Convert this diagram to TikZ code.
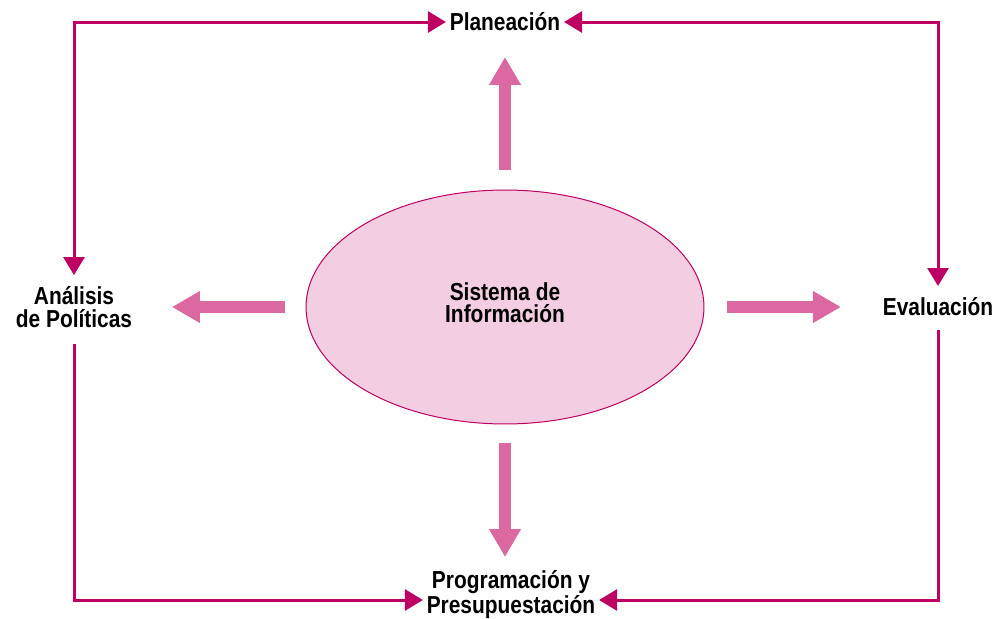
\documentclass[tikz,border=0pt]{standalone}
\usepackage{fontspec}
\setmainfont[FakeStretch=0.85]{Liberation Sans}
\usetikzlibrary{arrows.meta,shapes.geometric}
\definecolor{linkred}{RGB}{190,0,98}
\definecolor{bigpink}{RGB}{219,104,160}
\definecolor{ovalfill}{RGB}{243,205,226}
\begin{document}
\begin{tikzpicture}[x=0.02cm,y=-0.02cm,
    lbl/.style={font=\bfseries\fontsize{14}{13}\selectfont,align=center,inner sep=2pt},
    tip/.tip={Triangle[length=0.36cm,width=0.42cm]},
    link/.style={draw=linkred,line width=0.06cm,-tip},
    big/.style={draw=bigpink,line width=0.23cm,-{Triangle[length=0.56cm,width=0.6cm]}}]
  \useasboundingbox (0,0) rectangle (995,619);
  \node[lbl] (plan) at (505,22) {Planeación};
  \node[lbl] (ana) at (74,307) {Análisis\\de Políticas};
  \node[lbl] (eval) at (938,307) {Evaluación};
  \node[lbl] (prog) at (511,595) {Programación y\\Presupuestación};
  \node[lbl,ellipse,draw=linkred,line width=0.02cm,fill=ovalfill,
    minimum width=7.96cm,minimum height=4.68cm] (sis) at (505,307) {Sistema de\\Información\\[-8pt]};
  % connectors round the outside
  \draw[link,tip-tip,shorten <=0.15cm] (ana.north) |- (plan.west);
  \draw[link,tip-tip,shorten >=0.16cm] (plan.east) -| (eval.north);
  \draw[link,shorten <=0.25cm] (ana.south) |- ([yshift=-0.1cm]prog.west);
  \draw[link,shorten <=0.2cm] (eval.south) |- ([yshift=-0.1cm]prog.east);
  % arrows out of the information system
  \draw[big,shorten <=0.4cm,shorten >=0.44cm] (sis.north) -- (sis.north |- plan.south);
  \draw[big,shorten <=0.42cm,shorten >=0.72cm] (sis) -- (ana);
  \draw[big,shorten <=0.46cm,shorten >=0.76cm] (sis) -- (eval);
  \draw[big,shorten <=0.38cm,shorten >=0.2cm] (sis.south) -- (sis.south |- prog.north);
\end{tikzpicture}
\end{document}
